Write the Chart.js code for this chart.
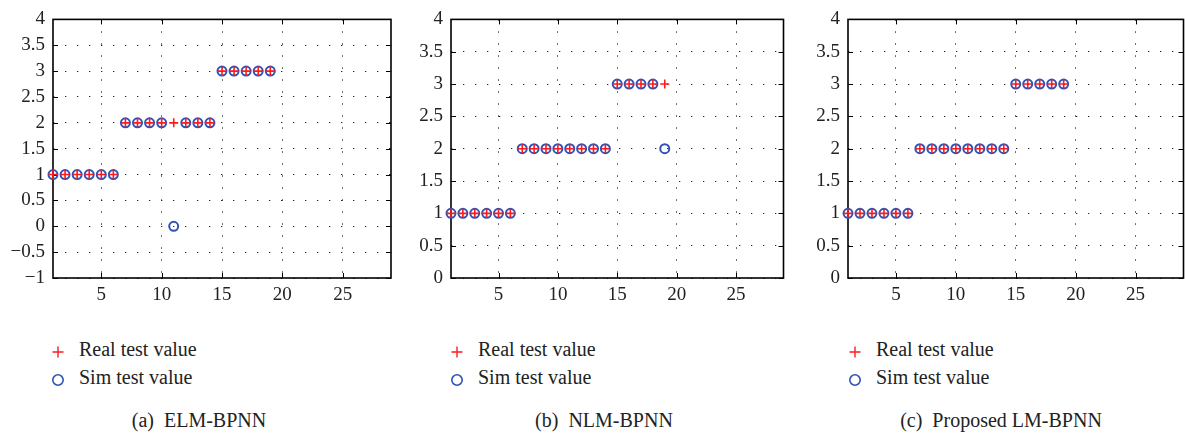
<!DOCTYPE html>
<html>
<head>
<meta charset="utf-8">
<script src="https://cdn.jsdelivr.net/npm/chart.js@4"></script>
<style>
  html, body { margin: 0; padding: 0; background: #fff; }
  body { width: 1185px; height: 434px; position: relative; overflow: hidden; color: #222;
         font-family: 'Liberation Serif', 'Times New Roman', serif; }
  canvas { position: absolute; top: 0; }
  .leg { position: absolute; font-size: 20px; line-height: 20px; white-space: nowrap; }
  .mk { position: absolute; }
  .cap { position: absolute; font-size: 20px; white-space: nowrap; transform: translate(-50%, -50%); }
</style>
</head>
<body>
<canvas id="c1" width="400" height="310" style="left:0px"></canvas>
<canvas id="c2" width="390" height="310" style="left:400px"></canvas>
<canvas id="c3" width="395" height="310" style="left:795px"></canvas>

<script>
// test sample numbers
var sampleIdx = [1, 2, 3, 4, 5, 6, 7, 8, 9, 10, 11, 12, 13, 14, 15, 16, 17, 18, 19];
// real class of each test sample
var realVals = [1, 1, 1, 1, 1, 1, 2, 2, 2, 2, 2, 2, 2, 2, 3, 3, 3, 3, 3];
// network outputs
var simElm = [1, 1, 1, 1, 1, 1, 2, 2, 2, 2, 0, 2, 2, 2, 3, 3, 3, 3, 3];
var simNlm = [1, 1, 1, 1, 1, 1, 2, 2, 2, 2, 2, 2, 2, 2, 3, 3, 3, 3, 2];
var simLm  = [1, 1, 1, 1, 1, 1, 2, 2, 2, 2, 2, 2, 2, 2, 3, 3, 3, 3, 3];

var seriesNames = ['Real test value', 'Sim test value'];
var captions = ['(a)\u2002ELM-BPNN', '(b)\u2002NLM-BPNN', '(c)\u2002Proposed LM-BPNN'];
var xTicks = [5, 10, 15, 20, 25];
var yRangeA = [-1, 4];
var yRangeBC = [0, 4];

var RED = '#ff1a1a';
var BLUE = '#2f52b4';
var FONT = "'Liberation Serif', 'Times New Roman', serif";

function toPoints(ys) {
    return sampleIdx.map(function(x, i) { return {x: x, y: ys[i]}; });
}

// box + inner tick marks, like the matlab axes
var frame = {
    id: 'frame',
    beforeDatasetsDraw: function(chart) {
        var ctx = chart.ctx, a = chart.chartArea;
        var sx = chart.scales.x, sy = chart.scales.y;
        ctx.save();
        ctx.setLineDash([]);
        ctx.strokeStyle = '#000';
        ctx.lineWidth = 1;
        ctx.beginPath();
        sx.ticks.forEach(function(t) {
            var p = Math.round(sx.getPixelForValue(t.value)) + 0.5;
            ctx.moveTo(p, a.bottom); ctx.lineTo(p, a.bottom - 5);
            ctx.moveTo(p, a.top); ctx.lineTo(p, a.top + 5);
        });
        sy.ticks.forEach(function(t) {
            var p = Math.round(sy.getPixelForValue(t.value)) + 0.5;
            ctx.moveTo(a.left, p); ctx.lineTo(a.left + 5, p);
            ctx.moveTo(a.right, p); ctx.lineTo(a.right - 5, p);
        });
        ctx.stroke();
        ctx.lineWidth = 1.6;
        ctx.strokeRect(a.left, a.top, a.right - a.left, a.bottom - a.top);
        ctx.restore();
    }
};

function makeChart(id, sim, yRange, axisW, padRight) {
    var ctx = document.getElementById(id).getContext('2d');
    return new Chart(ctx, {
        type: 'scatter',
        data: {
            datasets: [{
                label: seriesNames[0],
                data: toPoints(realVals),
                pointStyle: 'cross',
                pointRadius: 4.5,
                pointBorderWidth: 1.6,
                borderColor: RED,
                backgroundColor: RED,
                clip: false
            }, {
                label: seriesNames[1],
                data: toPoints(sim),
                pointStyle: 'circle',
                pointRadius: 4.5,
                pointBorderWidth: 2,
                borderColor: BLUE,
                backgroundColor: 'rgba(0,0,0,0)',
                clip: false
            }]
        },
        options: {
            responsive: false,
            animation: false,
            devicePixelRatio: 1,
            layout: { padding: { left: 0, top: 14, right: padRight, bottom: 0 } },
            plugins: { legend: { display: false }, tooltip: { enabled: false } },
            scales: {
                x: {
                    type: 'linear', min: 1, max: 29,
                    afterBuildTicks: function(s) { s.ticks = xTicks.map(function(v) { return {value: v}; }); },
                    afterFit: function(s) { s.height = 32; },
                    grid: { color: '#222', lineWidth: 1, drawTicks: false },
                    border: { display: false, dash: [1.3, 10.7] },
                    ticks: { padding: 6, color: '#222', font: { family: FONT, size: 19 }, maxRotation: 0 }
                },
                y: {
                    type: 'linear', min: yRange[0], max: yRange[1],
                    afterBuildTicks: function(s) {
                        var t = [];
                        for (var v = yRange[0]; v <= yRange[1] + 1e-9; v += 0.5) t.push({value: v});
                        s.ticks = t;
                    },
                    afterFit: function(s) { s.width = axisW; },
                    grid: { color: '#222', lineWidth: 1, drawTicks: false },
                    border: { display: false, dash: [1.3, 10.7] },
                    ticks: {
                        padding: 8, color: '#222', font: { family: FONT, size: 19 },
                        callback: function(v) { return String(v).replace('-', '\u2212'); }
                    }
                }
            }
        },
        plugins: [frame]
    });
}

var chart1 = makeChart('c1', simElm, yRangeA, 53, 9);
var chart2 = makeChart('c2', simNlm, yRangeBC, 51, 2);
var chart3 = makeChart('c3', simLm, yRangeBC, 53, 6);

var markerSvg = [
    '<svg width="14" height="14"><path d="M1.5 7H12.5M7 1.5V12.5" stroke="' + RED + '" stroke-width="1.4"/></svg>',
    '<svg width="14" height="14"><circle cx="7" cy="7" r="5.2" fill="none" stroke="' + BLUE + '" stroke-width="1.6"/></svg>'
];

// legends and captions under each panel
var legendLeft = [51, 450, 848];
var captionX = [199, 604, 1001];
[chart1, chart2, chart3].forEach(function(ch, k) {
    ch.data.datasets.forEach(function(ds, i) {
        var mk = document.createElement('div');
        mk.className = 'mk';
        mk.style.left = legendLeft[k] + 'px';
        mk.style.top = (i === 0 ? 345 : 373) + 'px';
        mk.innerHTML = markerSvg[i];
        document.body.appendChild(mk);
        var tx = document.createElement('div');
        tx.className = 'leg';
        tx.style.left = (legendLeft[k] + 28) + 'px';
        tx.style.top = (i === 0 ? 339 : 367) + 'px';
        tx.textContent = ds.label;
        document.body.appendChild(tx);
    });
    var cap = document.createElement('div');
    cap.className = 'cap';
    cap.style.left = captionX[k] + 'px';
    cap.style.top = '420px';
    cap.textContent = captions[k];
    document.body.appendChild(cap);
});
</script>
</body>
</html>
